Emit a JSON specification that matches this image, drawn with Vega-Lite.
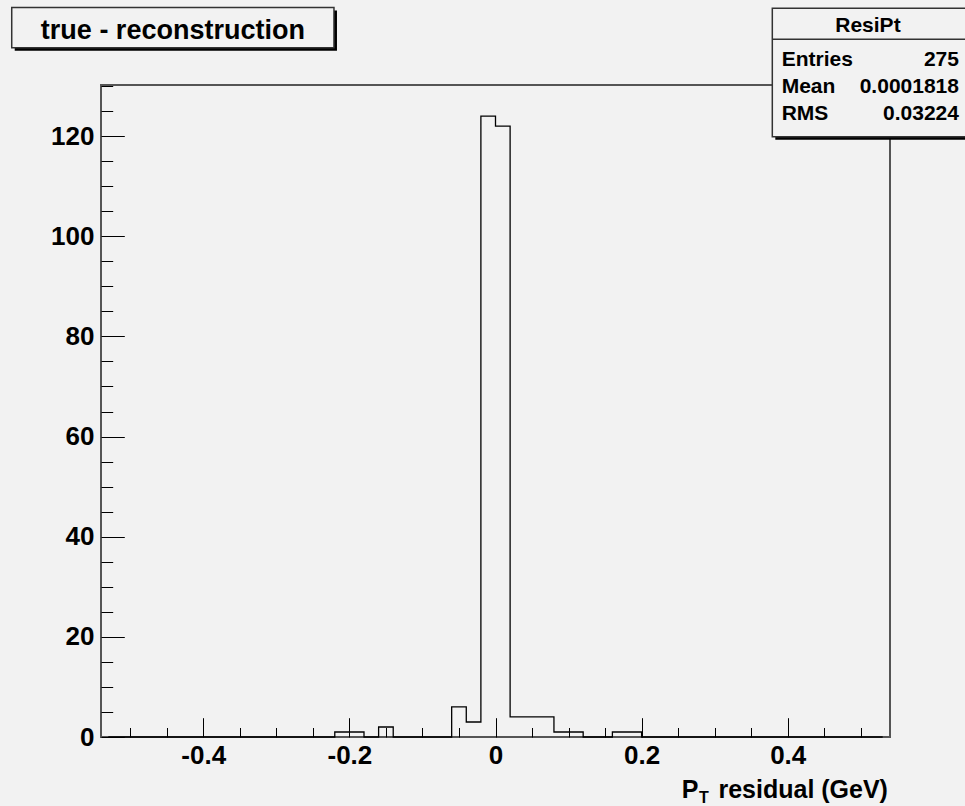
{
  "$schema": "https://vega.github.io/schema/vega-lite/v6.json",
  "width": 789,
  "height": 652,
  "autosize": {"type": "none"},
  "padding": {"left": 101, "top": 85, "right": 75, "bottom": 69},
  "background": "#f2f2f2",
  "config": {
    "view": {"stroke": "#555555", "strokeWidth": 2, "fill": "#f2f2f2"},
    "font": "Liberation Sans"
  },
  "data": {
    "values": [
      {"x": -0.53, "n": 0}, {"x": -0.51, "n": 0}, {"x": -0.49, "n": 0}, {"x": -0.47, "n": 0},
      {"x": -0.45, "n": 0}, {"x": -0.43, "n": 0}, {"x": -0.41, "n": 0}, {"x": -0.39, "n": 0},
      {"x": -0.37, "n": 0}, {"x": -0.35, "n": 0}, {"x": -0.33, "n": 0}, {"x": -0.31, "n": 0},
      {"x": -0.29, "n": 0}, {"x": -0.27, "n": 0}, {"x": -0.25, "n": 0}, {"x": -0.23, "n": 0},
      {"x": -0.21, "n": 1}, {"x": -0.19, "n": 1}, {"x": -0.17, "n": 0}, {"x": -0.15, "n": 2},
      {"x": -0.13, "n": 0}, {"x": -0.11, "n": 0}, {"x": -0.09, "n": 0}, {"x": -0.07, "n": 0},
      {"x": -0.05, "n": 6}, {"x": -0.03, "n": 3}, {"x": -0.01, "n": 124}, {"x": 0.01, "n": 122},
      {"x": 0.03, "n": 4}, {"x": 0.05, "n": 4}, {"x": 0.07, "n": 4}, {"x": 0.09, "n": 1},
      {"x": 0.11, "n": 1}, {"x": 0.13, "n": 0}, {"x": 0.15, "n": 0}, {"x": 0.17, "n": 1},
      {"x": 0.19, "n": 1}, {"x": 0.21, "n": 0}, {"x": 0.23, "n": 0}, {"x": 0.25, "n": 0},
      {"x": 0.27, "n": 0}, {"x": 0.29, "n": 0}, {"x": 0.31, "n": 0}, {"x": 0.33, "n": 0},
      {"x": 0.35, "n": 0}, {"x": 0.37, "n": 0}, {"x": 0.39, "n": 0}, {"x": 0.41, "n": 0},
      {"x": 0.43, "n": 0}, {"x": 0.45, "n": 0}, {"x": 0.47, "n": 0}, {"x": 0.49, "n": 0},
      {"x": 0.51, "n": 0}, {"x": 0.53, "n": 0}
    ]
  },
  "layer": [
    {
      "mark": {"type": "line", "opacity": 0},
      "encoding": {
        "x": {"field": "x", "type": "quantitative", "scale": {"domain": [-0.54, 0.54], "nice": false, "zero": false},
          "axis": {"orient": "bottom", "values": [-0.5, -0.45, -0.35, -0.3, -0.25, -0.15, -0.1, -0.05, 0.05, 0.1, 0.15, 0.25, 0.3, 0.35, 0.45, 0.5],
            "tickSize": -9.5, "tickColor": "#000", "tickWidth": 1, "labels": false, "domain": false, "grid": false, "title": null}},
        "y": {"field": "n", "type": "quantitative", "scale": {"domain": [0, 130.2], "nice": false, "zero": true},
          "axis": {"orient": "left", "values": [5, 10, 15, 25, 30, 35, 45, 50, 55, 65, 70, 75, 85, 90, 95, 105, 110, 115, 125, 130],
            "tickSize": -11.7, "tickColor": "#000", "tickWidth": 1, "labels": false, "domain": false, "grid": false, "title": null}}
      }
    },
    {
      "mark": {"type": "line", "opacity": 0},
      "encoding": {
        "x": {"field": "x", "type": "quantitative", "scale": {"domain": [-0.54, 0.54], "nice": false, "zero": false},
          "axis": {"orient": "bottom", "values": [-0.4, -0.2, 0, 0.2, 0.4],
            "tickSize": -19.3, "tickColor": "#000", "tickWidth": 1, "labels": false, "domain": false, "grid": false, "title": null}},
        "y": {"field": "n", "type": "quantitative", "scale": {"domain": [0, 130.2], "nice": false, "zero": true},
          "axis": {"orient": "left", "values": [0, 20, 40, 60, 80, 100, 120],
            "tickSize": -23.3, "tickColor": "#000", "tickWidth": 1, "labels": false, "domain": false, "grid": false, "title": null}}
      }
    },
    {
      "mark": {"type": "line", "interpolate": "step", "color": "#000000", "strokeWidth": 1.3},
      "encoding": {
        "x": {"field": "x", "type": "quantitative", "scale": {"domain": [-0.54, 0.54], "nice": false, "zero": false},
          "axis": {"orient": "bottom", "values": [-0.4, -0.2, 0, 0.2, 0.4],
            "labelExpr": "datum.value == 0 ? '0' : (datum.value < 0 ? '-' : '') + format(abs(datum.value), '.1f')",
            "ticks": false, "domain": false, "grid": false, "title": null, "labelFlush": false, "labelOverlap": false,
            "labelFont": "Liberation Sans", "labelFontWeight": "bold", "labelFontSize": 26, "labelColor": "#000", "labelPadding": 5}},
        "y": {"field": "n", "type": "quantitative", "scale": {"domain": [0, 130.2], "nice": false, "zero": true},
          "axis": {"orient": "left", "values": [0, 20, 40, 60, 80, 100, 120],
            "ticks": false, "domain": false, "grid": false, "title": null, "labelFlush": false, "labelOverlap": false,
            "labelFont": "Liberation Sans", "labelFontWeight": "bold", "labelFontSize": 26, "labelColor": "#000", "labelPadding": 7}}
      }
    },
    {
      "data": {"values": [{}]},
      "mark": {"type": "rect", "fill": "#000000", "xOffset": 3, "x2Offset": 3, "yOffset": 3, "y2Offset": 3},
      "encoding": {
        "x": {"datum": -0.6622, "type": "quantitative", "axis": null, "scale": {"domain": [-0.54, 0.54], "nice": false, "zero": false}},
        "x2": {"datum": -0.2211},
        "y": {"datum": 145.7, "type": "quantitative", "axis": null, "scale": {"domain": [0, 130.2], "nice": false, "zero": true}},
        "y2": {"datum": 137.64}
      }
    },
    {
      "data": {"values": [{}]},
      "mark": {"type": "rect", "fill": "#f2f2f2", "stroke": "#333333", "strokeWidth": 1.5},
      "encoding": {
        "x": {"datum": -0.6622, "type": "quantitative", "axis": null, "scale": {"domain": [-0.54, 0.54], "nice": false, "zero": false}},
        "x2": {"datum": -0.2211},
        "y": {"datum": 145.7, "type": "quantitative", "axis": null, "scale": {"domain": [0, 130.2], "nice": false, "zero": true}},
        "y2": {"datum": 137.64}
      }
    },
    {
      "data": {"values": [{}]},
      "mark": {"type": "text", "text": "true - reconstruction", "font": "Liberation Sans", "fontWeight": "bold", "fontSize": 27, "align": "center", "baseline": "alphabetic", "color": "#000"},
      "encoding": {
        "x": {"datum": -0.4416, "type": "quantitative", "axis": null, "scale": {"domain": [-0.54, 0.54], "nice": false, "zero": false}},
        "y": {"datum": 139.32, "type": "quantitative", "axis": null, "scale": {"domain": [0, 130.2], "nice": false, "zero": true}}
      }
    },
    {
      "data": {"values": [{}]},
      "mark": {"type": "rect", "fill": "#000000", "xOffset": 3, "x2Offset": 3, "yOffset": 3, "y2Offset": 3},
      "encoding": {
        "x": {"datum": 0.3789, "type": "quantitative", "axis": null, "scale": {"domain": [-0.54, 0.54], "nice": false, "zero": false}},
        "x2": {"datum": 0.66},
        "y": {"datum": 145.51, "type": "quantitative", "axis": null, "scale": {"domain": [0, 130.2], "nice": false, "zero": true}},
        "y2": {"datum": 119.87}
      }
    },
    {
      "data": {"values": [{}]},
      "mark": {"type": "rect", "fill": "#f2f2f2", "stroke": "#333333", "strokeWidth": 1.5},
      "encoding": {
        "x": {"datum": 0.3789, "type": "quantitative", "axis": null, "scale": {"domain": [-0.54, 0.54], "nice": false, "zero": false}},
        "x2": {"datum": 0.66},
        "y": {"datum": 145.51, "type": "quantitative", "axis": null, "scale": {"domain": [0, 130.2], "nice": false, "zero": true}},
        "y2": {"datum": 119.87}
      }
    },
    {
      "data": {"values": [{}]},
      "mark": {"type": "rule", "color": "#333333", "strokeWidth": 1.5},
      "encoding": {
        "x": {"datum": 0.3789, "type": "quantitative", "axis": null, "scale": {"domain": [-0.54, 0.54], "nice": false, "zero": false}},
        "x2": {"datum": 0.66},
        "y": {"datum": 139.32, "type": "quantitative", "axis": null, "scale": {"domain": [0, 130.2], "nice": false, "zero": true}}
      }
    },
    {
      "data": {"values": [{}]},
      "mark": {"type": "text", "text": "ResiPt", "font": "Liberation Sans", "fontWeight": "bold", "fontSize": 21, "align": "center", "baseline": "alphabetic", "color": "#000"},
      "encoding": {
        "x": {"datum": 0.5098, "type": "quantitative", "axis": null, "scale": {"domain": [-0.54, 0.54], "nice": false, "zero": false}},
        "y": {"datum": 140.83, "type": "quantitative", "axis": null, "scale": {"domain": [0, 130.2], "nice": false, "zero": true}}
      }
    },
    {
      "data": {"values": [{}]},
      "mark": {"type": "text", "text": "Entries", "font": "Liberation Sans", "fontWeight": "bold", "fontSize": 21, "align": "left", "baseline": "alphabetic", "color": "#000"},
      "encoding": {
        "x": {"datum": 0.3917, "type": "quantitative", "axis": null, "scale": {"domain": [-0.54, 0.54], "nice": false, "zero": false}},
        "y": {"datum": 134.09, "type": "quantitative", "axis": null, "scale": {"domain": [0, 130.2], "nice": false, "zero": true}}
      }
    },
    {
      "data": {"values": [{}]},
      "mark": {"type": "text", "text": "Mean", "font": "Liberation Sans", "fontWeight": "bold", "fontSize": 21, "align": "left", "baseline": "alphabetic", "color": "#000"},
      "encoding": {
        "x": {"datum": 0.3917, "type": "quantitative", "axis": null, "scale": {"domain": [-0.54, 0.54], "nice": false, "zero": false}},
        "y": {"datum": 128.7, "type": "quantitative", "axis": null, "scale": {"domain": [0, 130.2], "nice": false, "zero": true}}
      }
    },
    {
      "data": {"values": [{}]},
      "mark": {"type": "text", "text": "RMS", "font": "Liberation Sans", "fontWeight": "bold", "fontSize": 21, "align": "left", "baseline": "alphabetic", "color": "#000"},
      "encoding": {
        "x": {"datum": 0.3917, "type": "quantitative", "axis": null, "scale": {"domain": [-0.54, 0.54], "nice": false, "zero": false}},
        "y": {"datum": 123.2, "type": "quantitative", "axis": null, "scale": {"domain": [0, 130.2], "nice": false, "zero": true}}
      }
    },
    {
      "data": {"values": [{}]},
      "mark": {"type": "text", "text": "275", "font": "Liberation Sans", "fontWeight": "bold", "fontSize": 21, "align": "right", "baseline": "alphabetic", "color": "#000"},
      "encoding": {
        "x": {"datum": 0.6344, "type": "quantitative", "axis": null, "scale": {"domain": [-0.54, 0.54], "nice": false, "zero": false}},
        "y": {"datum": 134.09, "type": "quantitative", "axis": null, "scale": {"domain": [0, 130.2], "nice": false, "zero": true}}
      }
    },
    {
      "data": {"values": [{}]},
      "mark": {"type": "text", "text": "0.0001818", "font": "Liberation Sans", "fontWeight": "bold", "fontSize": 21, "align": "right", "baseline": "alphabetic", "color": "#000"},
      "encoding": {
        "x": {"datum": 0.6344, "type": "quantitative", "axis": null, "scale": {"domain": [-0.54, 0.54], "nice": false, "zero": false}},
        "y": {"datum": 128.7, "type": "quantitative", "axis": null, "scale": {"domain": [0, 130.2], "nice": false, "zero": true}}
      }
    },
    {
      "data": {"values": [{}]},
      "mark": {"type": "text", "text": "0.03224", "font": "Liberation Sans", "fontWeight": "bold", "fontSize": 21, "align": "right", "baseline": "alphabetic", "color": "#000"},
      "encoding": {
        "x": {"datum": 0.6344, "type": "quantitative", "axis": null, "scale": {"domain": [-0.54, 0.54], "nice": false, "zero": false}},
        "y": {"datum": 123.2, "type": "quantitative", "axis": null, "scale": {"domain": [0, 130.2], "nice": false, "zero": true}}
      }
    },
    {
      "data": {"values": [{}]},
      "mark": {"type": "text", "text": "P", "font": "Liberation Sans", "fontWeight": "bold", "fontSize": 25, "align": "left", "baseline": "alphabetic", "color": "#000"},
      "encoding": {
        "x": {"datum": 0.2549, "type": "quantitative", "axis": null, "scale": {"domain": [-0.54, 0.54], "nice": false, "zero": false}},
        "y": {"datum": -12.24, "type": "quantitative", "axis": null, "scale": {"domain": [0, 130.2], "nice": false, "zero": true}}
      }
    },
    {
      "data": {"values": [{}]},
      "mark": {"type": "text", "text": "T", "font": "Liberation Sans", "fontWeight": "bold", "fontSize": 16, "align": "left", "baseline": "alphabetic", "color": "#000"},
      "encoding": {
        "x": {"datum": 0.2785, "type": "quantitative", "axis": null, "scale": {"domain": [-0.54, 0.54], "nice": false, "zero": false}},
        "y": {"datum": -13.1, "type": "quantitative", "axis": null, "scale": {"domain": [0, 130.2], "nice": false, "zero": true}}
      }
    },
    {
      "data": {"values": [{}]},
      "mark": {"type": "text", "text": "residual (GeV)", "font": "Liberation Sans", "fontWeight": "bold", "fontSize": 25, "align": "right", "baseline": "alphabetic", "color": "#000"},
      "encoding": {
        "x": {"datum": 0.5372, "type": "quantitative", "axis": null, "scale": {"domain": [-0.54, 0.54], "nice": false, "zero": false}},
        "y": {"datum": -12.24, "type": "quantitative", "axis": null, "scale": {"domain": [0, 130.2], "nice": false, "zero": true}}
      }
    }
  ],
  "resolve": {"axis": {"x": "independent", "y": "independent"}}
}
